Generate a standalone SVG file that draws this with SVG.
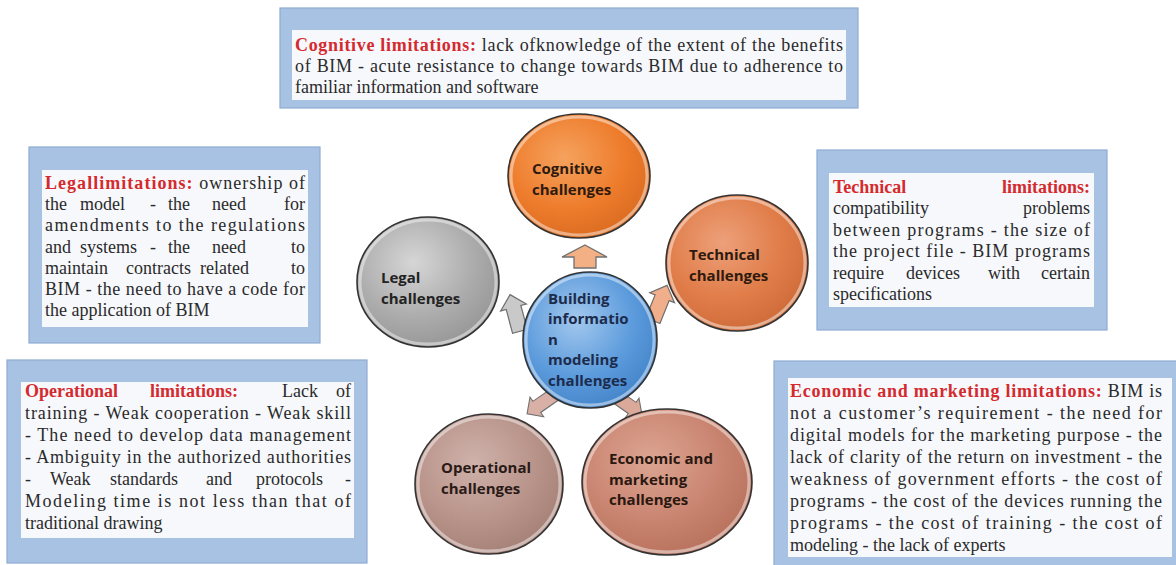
<svg xmlns="http://www.w3.org/2000/svg" width="1176" height="565" viewBox="0 0 1176 565">
<style>
.outer{fill:#a8c2e4;stroke:#8eaad3;stroke-width:1.2}
.inner{fill:#f6f8fc}
.t{font-family:"Liberation Serif","Times New Roman",serif;font-size:18px;fill:#2a2a2a}
.lbl{font-weight:bold;fill:#d42a2e}
.end{text-anchor:end}
.c{font-family:"Open Sans","Liberation Sans",sans-serif;font-weight:700;font-size:15px}
.ring{fill:none;stroke:#333;stroke-width:1.6}
.rim{fill:none;stroke:#fff;stroke-opacity:0.45;stroke-width:3}
.arr{stroke:#707070;stroke-width:1.3;stroke-linejoin:miter}
</style>
<defs>
<radialGradient id="gOr" cx="40%" cy="35%" r="70%"><stop offset="0" stop-color="#f5a25e"/><stop offset="0.6" stop-color="#ee7c2c"/><stop offset="1" stop-color="#d86a20"/></radialGradient>
<radialGradient id="gTe" cx="40%" cy="35%" r="70%"><stop offset="0" stop-color="#eda07a"/><stop offset="0.6" stop-color="#e07c48"/><stop offset="1" stop-color="#cc6a38"/></radialGradient>
<radialGradient id="gLe" cx="40%" cy="35%" r="70%"><stop offset="0" stop-color="#d6d6d6"/><stop offset="0.6" stop-color="#acacac"/><stop offset="1" stop-color="#959595"/></radialGradient>
<radialGradient id="gBi" cx="40%" cy="35%" r="70%"><stop offset="0" stop-color="#a3c8ee"/><stop offset="0.6" stop-color="#5c9bdc"/><stop offset="1" stop-color="#4283c8"/></radialGradient>
<radialGradient id="gOp" cx="40%" cy="35%" r="70%"><stop offset="0" stop-color="#cfb2aa"/><stop offset="0.6" stop-color="#b8938a"/><stop offset="1" stop-color="#a47f76"/></radialGradient>
<radialGradient id="gEc" cx="40%" cy="35%" r="70%"><stop offset="0" stop-color="#dca592"/><stop offset="0.6" stop-color="#c98470"/><stop offset="1" stop-color="#b6705c"/></radialGradient>
<polygon id="ar" points="0,-20 14,-6 8,-6 8,20 -8,20 -8,-6 -14,-6"/>
</defs>

<g id="box-cognitive">
<rect class="outer" x="280" y="8" width="578" height="100"/>
<rect class="inner" x="292" y="30" width="554" height="70"/>
<text class="t" x="295" y="51" textLength="548" lengthAdjust="spacing"><tspan class="lbl">Cognitive limitations:</tspan> lack ofknowledge of the extent of the benefits</text>
<text class="t" x="295" y="72" textLength="548" lengthAdjust="spacing">of BIM - acute resistance to change towards BIM due to adherence to</text>
<text class="t" x="295" y="93">familiar information and software</text>
</g>

<g id="box-legal">
<rect class="outer" x="29" y="147" width="291" height="196"/>
<rect class="inner" x="42" y="170" width="266" height="157"/>
<text class="t" x="45" y="189" textLength="260" lengthAdjust="spacing"><tspan class="lbl">Legallimitations:</tspan> ownership of</text>
<text class="t" y="210"><tspan x="45">the</tspan><tspan x="80">model</tspan><tspan x="150">-</tspan><tspan x="168">the</tspan><tspan x="212">need</tspan></text>
<text class="t end" x="305" y="210">for</text>
<text class="t" x="45" y="231" textLength="260" lengthAdjust="spacing">amendments to the regulations</text>
<text class="t" y="253"><tspan x="45">and</tspan><tspan x="80">systems</tspan><tspan x="150">-</tspan><tspan x="168">the</tspan><tspan x="212">need</tspan></text>
<text class="t end" x="305" y="253">to</text>
<text class="t" y="274"><tspan x="45">maintain</tspan><tspan x="126">contracts</tspan><tspan x="200">related</tspan></text>
<text class="t end" x="305" y="274">to</text>
<text class="t" x="45" y="295" textLength="260" lengthAdjust="spacing">BIM - the need to have a code for</text>
<text class="t" x="45" y="316">the application of BIM</text>
</g>

<g id="box-technical">
<rect class="outer" x="817" y="150" width="290" height="180"/>
<rect class="inner" x="829" y="173" width="265" height="134"/>
<text class="t lbl" x="833" y="193">Technical</text>
<text class="t lbl end" x="1090" y="193">limitations:</text>
<text class="t" x="833" y="214">compatibility</text>
<text class="t end" x="1090" y="214">problems</text>
<text class="t" x="833" y="236" textLength="257" lengthAdjust="spacing">between programs - the size of</text>
<text class="t" x="833" y="257" textLength="257" lengthAdjust="spacing">the project file - BIM programs</text>
<text class="t" y="279"><tspan x="833">require</tspan><tspan x="906">devices</tspan><tspan x="988">with</tspan></text>
<text class="t end" x="1090" y="279">certain</text>
<text class="t" x="833" y="300">specifications</text>
</g>

<g id="box-operational">
<rect class="outer" x="7" y="360" width="360" height="203"/>
<rect class="inner" x="21" y="382" width="333" height="156"/>
<text class="t" y="397"><tspan class="lbl" x="25">Operational</tspan><tspan class="lbl" x="150">limitations:</tspan><tspan x="282">Lack</tspan></text>
<text class="t end" x="351" y="397">of</text>
<text class="t" x="25" y="419" textLength="326" lengthAdjust="spacing">training - Weak cooperation - Weak skill</text>
<text class="t" x="25" y="441" textLength="326" lengthAdjust="spacing">- The need to develop data management</text>
<text class="t" x="25" y="463" textLength="326" lengthAdjust="spacing">- Ambiguity in the authorized authorities</text>
<text class="t" y="485"><tspan x="25">-</tspan><tspan x="50">Weak</tspan><tspan x="110">standards</tspan><tspan x="206">and</tspan><tspan x="256">protocols</tspan></text>
<text class="t end" x="351" y="485">-</text>
<text class="t" x="25" y="507" textLength="326" lengthAdjust="spacing">Modeling time is not less than that of</text>
<text class="t" x="25" y="529">traditional drawing</text>
</g>

<g id="box-economic">
<rect class="outer" x="774" y="361" width="403" height="205"/>
<rect class="inner" x="788" y="378" width="384" height="179"/>
<text class="t" x="790" y="397" textLength="372" lengthAdjust="spacing"><tspan class="lbl">Economic and marketing limitations:</tspan> BIM is</text>
<text class="t" x="790" y="419" textLength="372" lengthAdjust="spacing">not a customer’s requirement - the need for</text>
<text class="t" x="790" y="441" textLength="372" lengthAdjust="spacing">digital models for the marketing purpose - the</text>
<text class="t" x="790" y="463" textLength="372" lengthAdjust="spacing">lack of clarity of the return on investment - the</text>
<text class="t" x="790" y="485" textLength="372" lengthAdjust="spacing">weakness of government efforts - the cost of</text>
<text class="t" x="790" y="507" textLength="372" lengthAdjust="spacing">programs - the cost of the devices running the</text>
<text class="t" x="790" y="529" textLength="372" lengthAdjust="spacing">programs - the cost of training - the cost of</text>
<text class="t" x="790" y="551">modeling - the lack of experts</text>
</g>

<g id="connectors">
<polygon class="arr" fill="#f4b085" points="585,245 607,257 596,257 596,268 574,268 574,257 562,257"/>
<use href="#ar" class="arr" fill="#c9c9c9" transform="translate(515,313) rotate(-15) scale(0.95)"/>
<use href="#ar" class="arr" fill="#f0ae8a" transform="translate(660,303) rotate(22) scale(0.95)"/>
<use href="#ar" class="arr" fill="#d9b0a6" transform="translate(541,404) rotate(-125) scale(0.85)"/>
<use href="#ar" class="arr" fill="#dba99a" transform="translate(628,405) rotate(125) scale(0.85)"/>
</g>

<g id="node-cognitive">
<ellipse cx="579" cy="176" rx="71" ry="62" fill="url(#gOr)"/>
<ellipse class="rim" cx="579" cy="176" rx="68" ry="59"/>
<ellipse class="ring" cx="579" cy="176" rx="71" ry="62"/>
<text class="c" fill="#2e1a0e" x="532" y="174">Cognitive<tspan x="532" y="195">challenges</tspan></text>
</g>

<g id="node-technical">
<ellipse cx="737" cy="263" rx="71" ry="68" fill="url(#gTe)"/>
<ellipse class="rim" cx="737" cy="263" rx="68" ry="65"/>
<ellipse class="ring" cx="737" cy="263" rx="71" ry="68"/>
<text class="c" fill="#2e1a0e" x="689" y="260">Technical<tspan x="689" y="281">challenges</tspan></text>
</g>

<g id="node-legal">
<ellipse cx="428" cy="282" rx="71" ry="65" fill="url(#gLe)"/>
<ellipse class="rim" cx="428" cy="282" rx="68" ry="62"/>
<ellipse class="ring" cx="428" cy="282" rx="71" ry="65"/>
<text class="c" fill="#222" x="381" y="283">Legal<tspan x="381" y="304">challenges</tspan></text>
</g>

<g id="node-bim">
<ellipse cx="590" cy="340" rx="67" ry="68" fill="url(#gBi)"/>
<ellipse class="rim" cx="590" cy="340" rx="64" ry="65"/>
<ellipse class="ring" cx="590" cy="340" rx="67" ry="68"/>
<text class="c" fill="#1c2b4c" x="548" y="304">Building<tspan x="548" y="324">informatio</tspan><tspan x="548" y="345">n</tspan><tspan x="548" y="365">modeling</tspan><tspan x="548" y="386">challenges</tspan></text>
</g>

<g id="node-operational">
<ellipse cx="489" cy="484" rx="74" ry="70" fill="url(#gOp)"/>
<ellipse class="rim" cx="489" cy="484" rx="71" ry="67"/>
<ellipse class="ring" cx="489" cy="484" rx="74" ry="70"/>
<text class="c" fill="#2a1a16" x="441" y="473">Operational<tspan x="441" y="494">challenges</tspan></text>
</g>

<g id="node-economic">
<ellipse cx="667" cy="482" rx="85" ry="73" fill="url(#gEc)"/>
<ellipse class="rim" cx="667" cy="482" rx="82" ry="70"/>
<ellipse class="ring" cx="667" cy="482" rx="85" ry="73"/>
<text class="c" fill="#2a1710" x="609" y="464">Economic and<tspan x="609" y="485">marketing</tspan><tspan x="609" y="505">challenges</tspan></text>
</g>
</svg>
